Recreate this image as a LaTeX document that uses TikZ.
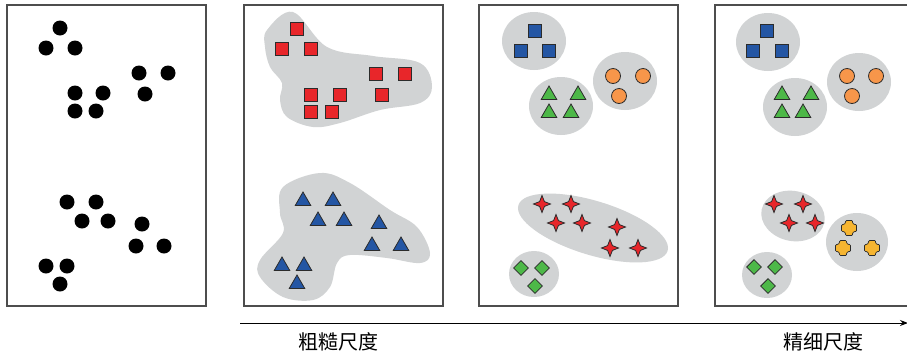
\documentclass[tikz,border=0pt]{standalone}
\usepackage{fontspec}
\newfontfamily\cjk{Noto Sans CJK SC}
\usetikzlibrary{shapes.geometric,arrows.meta}
\definecolor{blobgray}{HTML}{D1D3D4}
\definecolor{framegray}{HTML}{4D4D4D}
\definecolor{edgegray}{HTML}{2B2B2B}
\definecolor{cred}{HTML}{E8262A}
\definecolor{cblue}{HTML}{2456A4}
\definecolor{cgreen}{HTML}{4DB848}
\definecolor{corange}{HTML}{F7964A}
\definecolor{cyellow}{HTML}{F6B531}
\tikzset{
  panel/.style={draw=framegray,line width=1.2pt,fill=white},
  blob/.style={fill=blobgray,draw=none},
  dot/.style={circle,fill=black,minimum size=15pt,inner sep=0pt},
  mk/.style={draw=edgegray,line width=0.8pt,inner sep=0pt},
  sqmark/.style={mk,rectangle,minimum size=13pt},
  trimark/.style={mk,regular polygon,regular polygon sides=3,minimum size=18pt},
  cirmark/.style={mk,circle,minimum size=15pt,fill=corange},
  starmark/.style={mk,star,star points=4,star point ratio=2.5,minimum size=17pt,fill=cred},
  diamark/.style={mk,diamond,minimum size=15pt,fill=cgreen},
  crossmark/.style={mk,fill=cyellow,line width=0.7pt},
  lbl/.style={font=\cjk\fontsize{20}{24}\selectfont,inner sep=0pt}
}
\begin{document}
\begin{tikzpicture}[x=1pt,y=-1pt]
\useasboundingbox (0,0) rectangle (907,357);
\clip (0,0) rectangle (907,357);
% panels
\draw[panel] (7,5) rectangle (206,306);
\draw[panel] (244,5) rectangle (443,306);
\draw[panel] (479,5) rectangle (678,306);
\draw[panel] (715,5) rectangle (925,306);

% panel 1 dots
\foreach \x/\y [count=\i] in {60/28,46/48,75/48,139/73,168/73,145/94,75/93,103/93,75/111,96/111,
  67/202,96/202,82/221,108/221,142/224,136/246,164/246,46/266,67/266,60/284}
  \node[dot] (d\i) at (\x,\y) {};

% panel 2 blobs
\fill[blob] plot[smooth cycle,tension=0.6] coordinates {(267,30) (293,12) (327,47) (373,56) (420,63) (432,87) (420,103) (380,110) (340,123) (313,127) (287,117) (280,100) (282,83) (270,67) (265,47)};
\fill[blob] plot[smooth cycle,tension=0.6] coordinates {(283,187) (320,173) (350,183) (390,210) (417,227) (430,253) (420,263) (387,258) (350,255) (337,263) (330,287) (313,300) (283,297) (260,277) (260,260) (283,233) (280,213)};
\foreach \x/\y [count=\i] in {297/29,282/49,311/49,376/74,405/74,382/95,311/95,340/95,311/112,332/112}
  \node[sqmark,fill=cred] (rs\i) at (\x,\y) {};
\foreach \x/\y [count=\i] in {303/201,333/201,318/221,344/221,379/224,372/246,401/246,282/266,304/266,297/284}
  \node[trimark,fill=cblue] (bt\i) at (\x,\y) {};

% panel 3
\fill[blob] (534,41) ellipse (32 and 29);
\fill[blob] (625,81) ellipse (32 and 29);
\fill[blob] (561,106) ellipse (32 and 29);
\fill[blob,rotate around={-17:(593,228)}] (593,228) ellipse (78 and 27);
\fill[blob] (534,274) ellipse (25 and 23);
\foreach \x/\y [count=\i] in {535/31,521/51,549/51}
  \node[sqmark,fill=cblue] (cs\i) at (\x,\y) {};
\foreach \x/\y [count=\i] in {613/76,643/76,619/96}
  \node[cirmark] (cc\i) at (\x,\y) {};
\foreach \x/\y [count=\i] in {549/95,578/95,549/113,571/113}
  \node[trimark,fill=cgreen] (ct\i) at (\x,\y) {};
\foreach \x/\y [count=\i] in {542/204,571/204,556/223,582/223,617/227,610/248,638/248}
  \node[starmark] (cst\i) at (\x,\y) {};
\foreach \x/\y [count=\i] in {521/268,542/268,535/286}
  \node[diamark] (cd\i) at (\x,\y) {};

% panel 4
\fill[blob] (768,42) ellipse (32 and 29);
\fill[blob] (859,82) ellipse (32 and 29);
\fill[blob] (795,107) ellipse (32 and 29);
\fill[blob,rotate around={-12:(793,216)}] (793,216) ellipse (32 and 25);
\fill[blob] (857,242) ellipse (31 and 29);
\fill[blob] (767,275) ellipse (25 and 23);
\foreach \x/\y [count=\i] in {767/31,753/51,782/51}
  \node[sqmark,fill=cblue] (fs\i) at (\x,\y) {};
\foreach \x/\y [count=\i] in {847/76,876/76,852/96}
  \node[cirmark] (fc\i) at (\x,\y) {};
\foreach \x/\y [count=\i] in {782/95,811/95,782/113,803/113}
  \node[trimark,fill=cgreen] (ft\i) at (\x,\y) {};
\foreach \x/\y [count=\i] in {774/204,803/204,789/223,815/223}
  \node[starmark] (fst\i) at (\x,\y) {};
\foreach \x/\y [count=\i] in {754/267,775/267,768/286}
  \node[diamark] (fd\i) at (\x,\y) {};
\foreach \x/\y [count=\i] in {849/228,843/248,872/248}
  \draw[crossmark,shift={(\x,\y)},rounded corners=1pt] (-3.5,-7.5) -- (3.5,-7.5) -- (3.5,-5) -- (5,-3.5) -- (7.5,-3.5) -- (7.5,3.5) -- (5,3.5) -- (3.5,5) -- (3.5,7.5) -- (-3.5,7.5) -- (-3.5,5) -- (-5,3.5) -- (-7.5,3.5) -- (-7.5,-3.5) -- (-5,-3.5) -- (-3.5,-5) -- cycle;

% axis
\coordinate (axs) at (240,323);
\coordinate (axe) at (908,323);
\draw[line width=1pt,-{Stealth[length=8pt,width=6pt]}] (axs) -- (axe);
\node[lbl] (coarse) at (338,342) {粗糙尺度};
\node[lbl] (fine) at (823,342) {精细尺度};
\end{tikzpicture}
\end{document}
